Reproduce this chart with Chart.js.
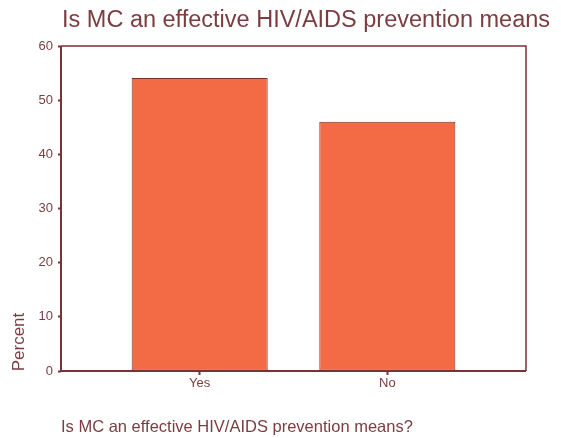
<!DOCTYPE html>
<html>
<head>
<meta charset="utf-8">
<script src="https://cdn.jsdelivr.net/npm/chart.js@4/dist/chart.umd.min.js"></script>
<style>
  html, body { margin: 0; padding: 0; background: #fff; }
  #wrap { width: 561px; height: 438px; }
</style>
</head>
<body>
<div id="wrap"><canvas id="mcChart" width="561" height="438"></canvas></div>
<script>
// answers and percentages
const categories = ['Yes', 'No'];
const percent = [54.1, 46.0];
const yTicks = [0, 10, 20, 30, 40, 50, 60];

const maroon = '#7a3236';
const textColor = '#7b3d40';
const fillColor = '#f26b45';
const fontFamily = '"Liberation Sans", Arial, sans-serif';

// frame, titles and axis labels
const decorations = {
    id: 'decorations',
    afterDraw(chart) {
        const c = chart.ctx;
        const a = chart.chartArea;
        c.save();
        c.strokeStyle = maroon;
        c.lineWidth = 1.5;
        c.beginPath();
        c.moveTo(a.left, a.top);
        c.lineTo(a.right, a.top);
        c.lineTo(a.right, a.bottom);
        c.stroke();
        c.lineWidth = 2;
        c.beginPath();
        c.moveTo(a.left, a.top);
        c.lineTo(a.left, a.bottom);
        c.lineTo(a.right, a.bottom);
        c.stroke();

        c.fillStyle = textColor;
        c.textBaseline = 'alphabetic';
        c.textAlign = 'left';
        c.font = '23.5px ' + fontFamily;
        c.fillText('Is MC an effective HIV/AIDS prevention means', 62, 27);

        c.font = '16.5px ' + fontFamily;
        c.fillText('Is MC an effective HIV/AIDS prevention means?', 61, 432);

        c.translate(24, 342);
        c.rotate(-Math.PI / 2);
        c.textAlign = 'center';
        c.font = '17px ' + fontFamily;
        c.fillText('Percent', 0, 0);
        c.restore();
    }
};

const ctx = document.getElementById('mcChart').getContext('2d');

const chart = new Chart(ctx, {
    type: 'bar',
    data: {
        datasets: [{
            data: categories.map((c, i) => ({ x: i, y: percent[i] })),
            backgroundColor: fillColor,
            borderColor: '#7e2c2c',
            borderWidth: 1,
            borderSkipped: false,
            categoryPercentage: 1,
            barPercentage: 0.725
        }]
    },
    options: {
        responsive: false,
        animation: false,
        layout: { padding: { top: 46, right: 35, left: 0, bottom: 0 } },
        plugins: {
            legend: { display: false },
            tooltip: { enabled: false }
        },
        scales: {
            x: {
                type: 'linear',
                offset: false,
                min: -0.739,
                max: 1.739,
                afterBuildTicks: (s) => { s.ticks = categories.map((c, i) => ({ value: i })); },
                afterFit: (s) => { s.height = 67; },
                border: { display: false },
                grid: { offset: false, drawOnChartArea: false, tickLength: 4, tickWidth: 2, color: maroon },
                ticks: {
                    color: textColor,
                    font: { family: fontFamily, size: 13 },
                    padding: 1,
                    maxRotation: 0,
                    callback: (v) => categories[v]
                }
            },
            y: {
                min: 0,
                max: 60,
                afterBuildTicks: (s) => { s.ticks = yTicks.map(v => ({ value: v })); },
                afterFit: (s) => { s.width = 61; },
                border: { display: false },
                grid: { drawOnChartArea: false, tickLength: 3, tickWidth: 2, color: maroon },
                ticks: {
                    color: textColor,
                    font: { family: fontFamily, size: 13 },
                    padding: 5
                }
            }
        }
    },
    plugins: [decorations]
});
</script>
</body>
</html>
